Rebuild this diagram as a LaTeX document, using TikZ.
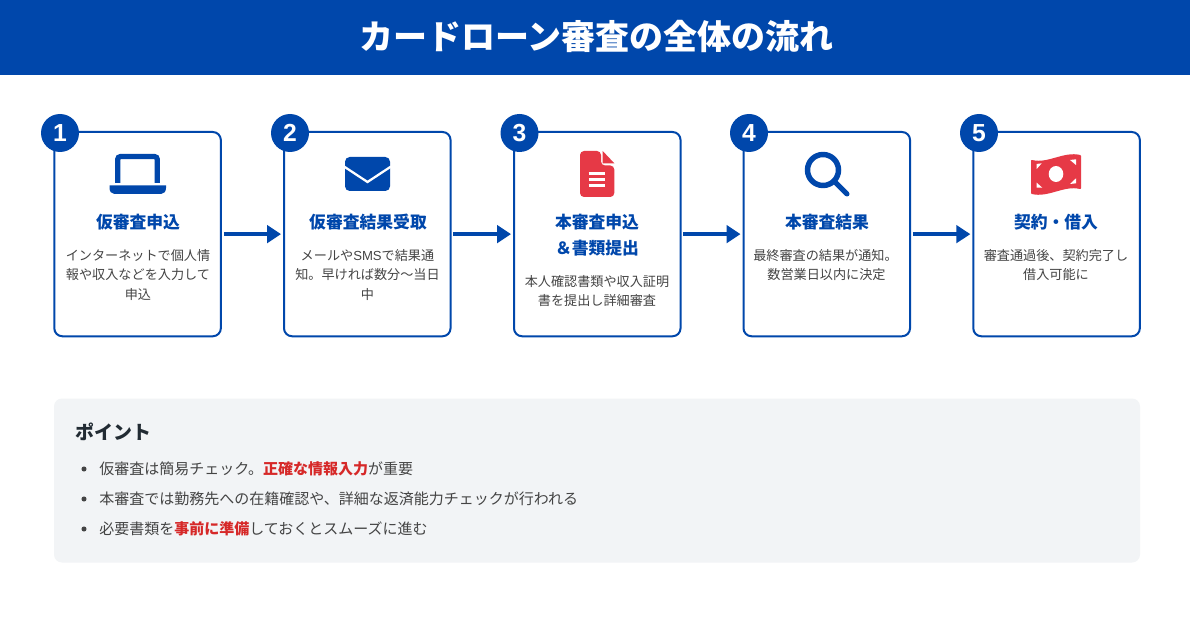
\documentclass[tikz,border=0pt]{standalone}
\usepackage{fontspec}
\usetikzlibrary{arrows.meta}
\setmainfont{Noto Sans CJK JP}
\newfontfamily\latinb{Liberation Sans}
\definecolor{brand}{HTML}{0047AB}
\definecolor{accent}{HTML}{E63946}
\definecolor{hot}{HTML}{D62828}
\definecolor{body}{HTML}{444444}
\definecolor{panelbg}{HTML}{F2F4F6}
\definecolor{ink}{HTML}{222B33}
\tikzset{
  card/.style={draw=brand,line width=1.5pt,rounded corners=6pt,fill=white,minimum width=124.9pt,minimum height=153.2pt,inner sep=0pt,outer sep=0pt,anchor=north west},
  badge/.style={circle,fill=brand,text=white,minimum size=28.5pt,inner sep=0pt,font=\latinb\fontsize{18.5}{20}\selectfont\bfseries},
  steptitle/.style={text=brand,font=\fontsize{12.6}{19.5}\selectfont\bfseries,align=center,anchor=north,inner sep=0pt},
  stepbody/.style={text=body,font=\fontsize{9.85}{14.65}\selectfont,align=center,anchor=north,inner sep=0pt},
  flow/.style={draw=brand,line width=3.2pt,-{Triangle[length=10.5pt,width=13pt]},shorten <=2.2pt,shorten >=2.2pt},
  listitem/.style={text=body,font=\fontsize{11.25}{14}\selectfont,anchor=west,inner sep=0pt},
  dot/.style={circle,fill=body,minimum size=3.8pt,inner sep=0pt},
}
\newcommand{\hot}[1]{\textcolor{hot}{\bfseries #1}}
\begin{document}
\begin{tikzpicture}[x=0.75pt,y=-0.75pt]
\useasboundingbox (0,0) rectangle (1190,624);
\fill[white] (0,0) rectangle (1190,624);
% header
\node[fill=brand,minimum width=892.5pt,minimum height=56.25pt,inner sep=0pt,outer sep=0pt,anchor=north west] (header) at (0,0) {};
\node[text=white,font=\fontsize{25.5}{30}\selectfont\bfseries,inner sep=0pt] (headtitle) at (596.5,36) {カードローン審査の全体の流れ};
% cards
\node[card] (c1) at (54.3,132) {};
\node[card] (c2) at (284,132) {};
\node[card] (c3) at (514,132) {};
\node[card] (c4) at (743.5,132) {};
\node[card] (c5) at (973.3,132) {};
% connectors
\draw[flow] (c1.east) -- (c2.west);
\draw[flow] (c2.east) -- (c3.west);
\draw[flow] (c3.east) -- (c4.west);
\draw[flow] (c4.east) -- (c5.west);
% badges
\node[badge] (b1) at (60,133) {1};
\node[badge] (b2) at (290,133) {2};
\node[badge] (b3) at (519.5,133) {3};
\node[badge] (b4) at (749,133) {4};
\node[badge] (b5) at (979,133) {5};
% laptop icon
\draw[brand,line width=3.9pt,rounded corners=2pt] (117.7,183) -- (117.7,156.6) -- (157.3,156.6) -- (157.3,183);
\fill[brand] (109.5,185.5) -- (166,185.5) -- (166,188) .. controls (166,191.5) and (164,194) .. (161,194) -- (114.5,194) .. controls (111.5,194) and (109.5,191.5) .. (109.5,188) -- cycle;
% envelope icon
\fill[brand,rounded corners=3.5pt] (345,157) rectangle (390,191);
\draw[white,line width=1.7pt] (344,166.5) -- (367.5,182) -- (391,166.5);
% document icon
\fill[accent,rounded corners=3pt] (580,197) -- (580,151) -- (601,151) -- (601,165.5) -- (614.3,165.5) -- (614.3,197) -- cycle;
\fill[accent] (602.7,151) -- (614.3,163.3) -- (602.7,163.3) -- cycle;
\foreach \yy in {173.5,179.5,185.5} \draw[white,line width=2.2pt] (588.7,\yy) -- (605.3,\yy);
% magnifier icon
\draw[brand,line width=4.1pt] (823,170) circle [radius=15.5];
\draw[brand,line width=3.75pt,line cap=round] (836,183) -- (847,194);
% money icon
\filldraw[accent,line width=1.5pt,line join=round] (1032,161) .. controls (1048,165) and (1064,152) .. (1080,156) -- (1080,188) .. controls (1064,184) and (1048,197) .. (1032,193) -- cycle;
\fill[white] (1056,174) ellipse [x radius=7.3,y radius=8];
\fill[white] (1036.7,164) -- (1041.7,163.3) -- (1036.7,169) -- cycle;
\fill[white] (1070,160) -- (1076,159.3) -- (1076,165) -- cycle;
\fill[white] (1036.7,182.7) -- (1036.7,187.7) -- (1042.3,187.7) -- cycle;
\fill[white] (1076,178.3) -- (1076,183.3) -- (1070,184) -- cycle;
% step text
\node[steptitle] (t1) at (138,214) {仮審査申込};
\node[stepbody] (d1) at (138,249) {インターネットで個人情\\報や収入などを入力して\\申込};
\node[steptitle] (t2) at (368,214) {仮審査結果受取};
\node[stepbody] (d2) at (367.5,249) {メールや{\latinb SMS}で結果通\\知。早ければ数分～当日\\中};
\node[steptitle] (t3) at (597,214) {本審査申込\\＆書類提出};
\node[stepbody] (d3) at (597,275) {本人確認書類や収入証明\\書を提出し詳細審査};
\node[steptitle] (t4) at (827,214) {本審査結果};
\node[stepbody] (d4) at (825.5,249) {最終審査の結果が通知。\\\hspace*{1.5pt}数営業日以内に決定};
\node[steptitle] (t5) at (1056,214) {契約・借入};
\node[stepbody] (d5) at (1056,249) {審査通過後、契約完了し\\借入可能に};
% panel
\node[fill=panelbg,rounded corners=6pt,minimum width=814.5pt,minimum height=123pt,inner sep=0pt,outer sep=0pt,anchor=north west] (panel) at (54,398.5) {};
\node[text=ink,font=\fontsize{14.2}{17}\selectfont\bfseries,anchor=west,inner sep=0pt] (ptitle) at (75,431.5) {ポイント};
\node[dot] (p1) at (84,469) {};
\node[listitem] (l1) at (99,468.5) {仮審査は簡易チェック。\hot{正確な情報入力}が重要};
\node[dot] (p2) at (84,499) {};
\node[listitem] (l2) at (99,498.5) {本審査では勤務先への在籍確認や、詳細な返済能力チェックが行われる};
\node[dot] (p3) at (84,529) {};
\node[listitem] (l3) at (99,528.5) {必要書類を\hot{事前に準備}しておくとスムーズに進む};
\end{tikzpicture}
\end{document}
